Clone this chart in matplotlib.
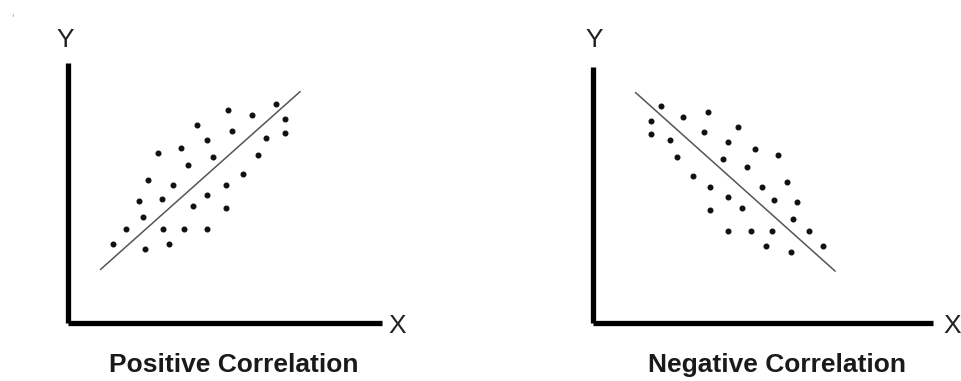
import matplotlib.pyplot as plt

# dot positions (pixel units of each panel)
pos_x = [112.7, 126, 142.7, 139, 148.3, 157.7, 145, 161.7, 163.3, 169, 173.3,
         180.7, 188.3, 184, 193.3, 197.3, 206.7, 206.7, 206.7, 212.7, 225.7,
         225.7, 227.7, 231.7, 242.7, 252.3, 258.3, 265.7, 275.7, 285, 285]
pos_y = [244, 229, 217.3, 200.7, 180, 153.3, 249.3, 198.7, 229, 244, 185.3,
         148, 165, 229, 206, 124.7, 140, 195, 229, 157.3, 185.3,
         208.3, 110, 130.7, 174, 115.3, 155, 138.3, 104, 119.3, 132.7]
pos_line_x = [100.7, 300]
pos_line_y = [269.3, 91.7]

neg_x = [660.7, 651, 651, 683.3, 707.7, 670, 677.3, 704, 738.3, 728.3, 692.7,
         722.7, 754.7, 777.7, 747.3, 710, 728.3, 710, 741.7, 762.3, 787.3,
         773.7, 796.7, 792.7, 728.3, 751.3, 771.7, 809.3, 766, 790.7, 823.3]
neg_y = [106, 121, 134, 117, 111.7, 140, 157, 132.3, 126.7, 142, 175.7,
         159, 149.3, 155, 166.7, 187.3, 196.7, 210, 208, 187.3, 181.7,
         200.3, 202.3, 219.3, 230.7, 230.7, 230.7, 230.7, 245.7, 251.7, 245.7]
neg_line_x = [635.7, 835]
neg_line_y = [92.7, 271]

titles = ["Positive Correlation", "Negative Correlation"]

W, H = 962, 381
fig = plt.figure(figsize=(W / 100, H / 100), dpi=100)


def panel(x0, x1, y0, y1, xs, ys, lx, ly, title, title_x, ylab_x, xlab_x):
    ax = fig.add_axes([x0 / W, 1 - y1 / H, (x1 - x0) / W, (y1 - y0) / H])
    ax.set_xlim(x0, x1)
    ax.set_ylim(y1, y0)
    for s in ["top", "right"]:
        ax.spines[s].set_visible(False)
    for s in ["left", "bottom"]:
        ax.spines[s].set_linewidth(3.8)
        ax.spines[s].set_color("black")
        ax.spines[s].set_capstyle("butt")
    ax.set_xticks([])
    ax.set_yticks([])
    ax.patch.set_alpha(0)
    ax.plot(lx, ly, color="#555555", lw=1.1, clip_on=False)
    ax.scatter(xs, ys, s=11, color="#111111", zorder=3, clip_on=False)
    fig.text(title_x / W, 1 - 365 / H, title,
             ha="center", va="center", fontsize=19, fontweight="bold",
             family=["Liberation Sans", "DejaVu Sans"], color="#1a1a1a")
    fig.text(ylab_x / W, 1 - 40 / H, "Y", ha="center", va="center",
             fontsize=19, fontweight="light",
             family=["Liberation Sans Narrow", "Liberation Sans"],
             color="#222222")
    fig.text(xlab_x / W, 1 - 326 / H, "X", ha="center", va="center",
             fontsize=19, fontweight="light",
             family=["Liberation Sans Narrow", "Liberation Sans"],
             color="#222222")


panel(68, 382, 63, 323, pos_x, pos_y, pos_line_x, pos_line_y, titles[0],
      234, 65, 397)
panel(593, 933, 67, 323, neg_x, neg_y, neg_line_x, neg_line_y, titles[1],
      777, 594, 952)

fig.text(12 / W, 1 - 18 / H, "'", fontsize=7, color="#999999", ha="center",
         va="center")

fig.savefig("out.png", dpi=100)
